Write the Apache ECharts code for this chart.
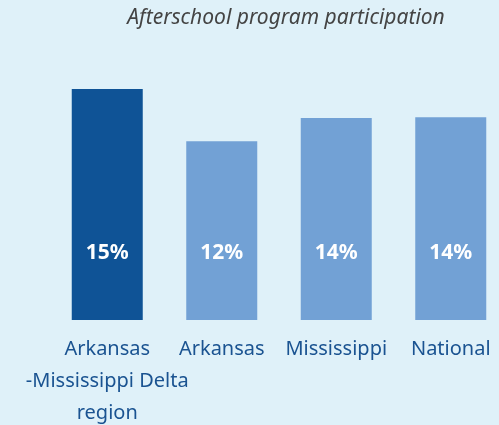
<!DOCTYPE html>
<html>
<head>
  <meta charset="utf-8" />
  <title>Afterschool program participation</title>
  <script src="https://cdn.jsdelivr.net/npm/echarts@6/dist/echarts.min.js"></script>
  <style>
    html, body { margin: 0; padding: 0; background: #dff1f9; }
    #main { width: 499px; height: 425px; }
  </style>
</head>
<body>
  <div id="main"></div>
  <script>
    // 数据
    var categories = ["Arkansas\n-Mississippi Delta\nregion", "Arkansas", "Mississippi", "National"];
    var values = [15.5, 12, 13.55, 13.6];
    var valueLabels = ["15%", "12%", "14%", "14%"];
    var barColors = ["#0f5396", "#72a1d5", "#72a1d5", "#72a1d5"];

    var chart = echarts.init(document.getElementById("main"));
    var option = {
      backgroundColor: "#dff1f9",
      textStyle: { fontFamily: "Noto Sans" },
      title: {
        text: "Afterschool program participation",
        left: 281,
        textAlign: "center",
        top: 3,
        textStyle: {
          fontFamily: "Noto Sans",
          fontStyle: "italic",
          fontWeight: "normal",
          fontSize: 21,
          color: "#444"
        }
      },
      grid: { left: 50, width: 458, top: 22, height: 298, outerBoundsMode: "none", containLabel: false },
      xAxis: {
        type: "category",
        data: categories,
        axisLine: { show: false },
        axisTick: { show: false },
        axisLabel: {
          interval: 0,
          margin: 13,
          fontSize: 20,
          lineHeight: 32,
          color: "#1a5391",
          fontFamily: "Noto Sans"
        }
      },
      yAxis: {
        type: "value",
        min: 0,
        max: 20,
        show: false,
        splitLine: { show: false }
      },
      series: [{
        type: "bar",
        barWidth: 71,
        data: values.map(function (v, i) {
          return { value: v, itemStyle: { color: barColors[i] } };
        }),
        label: {
          show: true,
          position: "insideBottom",
          distance: 56,
          color: "#fff",
          fontWeight: "bold",
          fontSize: 21,
          fontFamily: "Noto Sans",
          formatter: function (p) { return valueLabels[p.dataIndex]; }
        }
      }]
    };
    chart.setOption(option);
  </script>
</body>
</html>
